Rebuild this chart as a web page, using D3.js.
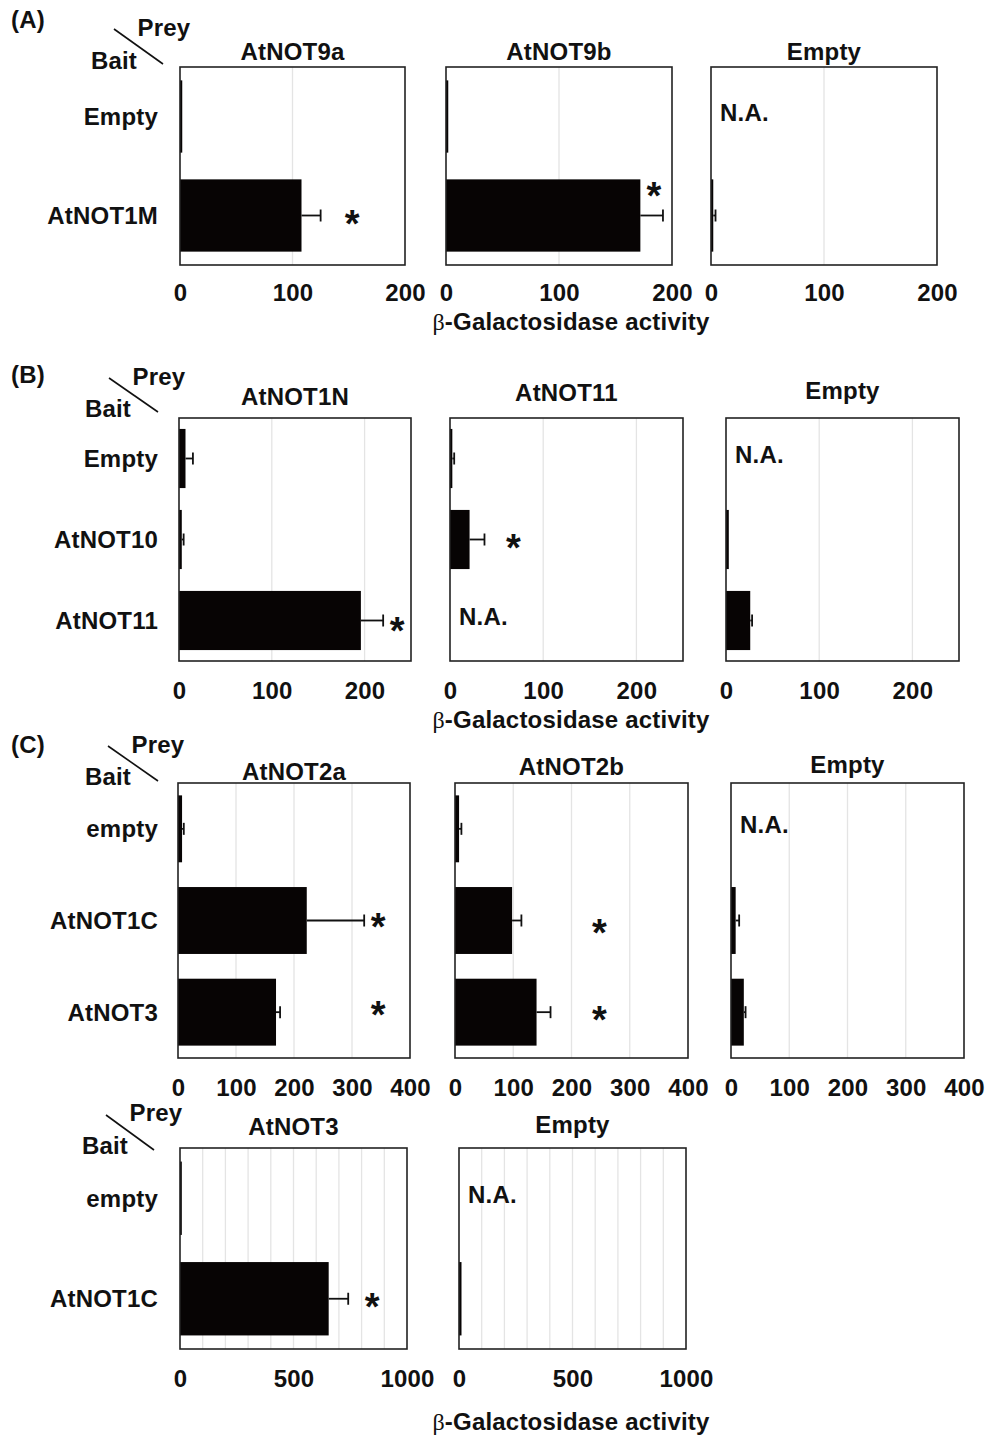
<!DOCTYPE html>
<html><head><meta charset="utf-8">
<script src="https://cdn.jsdelivr.net/npm/d3@7"></script>
<style>body{margin:0;background:#fff}</style>
</head><body>
<svg id="fig" width="987" height="1436"></svg>
<script>
// ---------- data: β-galactosidase activity (mean, SD), null = N.A. ----------
// (A) baits vs. preys AtNOT9a / AtNOT9b / Empty
const baitsA = ["Empty", "AtNOT1M"];
const preysA = ["AtNOT9a", "AtNOT9b", "Empty"];
const meanA  = [[2, 108], [2, 172], [null, 2]];
const errA   = [[0, 17], [0, 20], [null, 2]];
const starA  = [[null, 153], [null, 184], [null, null]];
const ticksA = [0, 100, 200];

// (B) baits vs. preys AtNOT1N / AtNOT11 / Empty
const baitsB = ["Empty", "AtNOT10", "AtNOT11"];
const preysB = ["AtNOT1N", "AtNOT11", "Empty"];
const meanB  = [[7, 3, 196], [2.5, 21, null], [null, 3, 26]];
const errB   = [[8, 2, 24], [2, 16, null], [null, 0, 2]];
const starB  = [[null, null, 235], [null, 68, null], [null, null, null]];
const ticksB = [0, 100, 200];

// (C) baits vs. preys AtNOT2a / AtNOT2b / Empty
const baitsC = ["empty", "AtNOT1C", "AtNOT3"];
const preysC = ["AtNOT2a", "AtNOT2b", "Empty"];
const meanC  = [[7, 222, 169], [7, 98, 140], [null, 8, 22]];
const errC   = [[3, 99, 7], [4, 16, 24], [null, 6, 3]];
const starC  = [[null, 345, 345], [null, 248, 248], [null, null, null]];
const ticksC = [0, 100, 200, 300, 400];

// (C, lower) baits vs. preys AtNOT3 / Empty
const baitsD = ["empty", "AtNOT1C"];
const preysD = ["AtNOT3", "Empty"];
const meanD  = [[8, 655], [null, 11]];
const errD   = [[0, 86], [null, 0]];
const starD  = [[null, 846], [null, null]];
const ticksD = [0, 500, 1000];

const axisTitle = "-Galactosidase activity";

// ---------- layout ----------
const FONT = "'Liberation Sans', Arial, Helvetica, sans-serif";
const FS = 24, LS = 0.2;
const STAR_FS = 38;

const panels = [
  { tag: "(A)", tagY: 20, prey: [164, 28], bait: [114, 61], slash: [114, 29, 163, 64],
    baits: baitsA, preys: preysA, mean: meanA, err: errA, star: starA,
    max: 200, ticks: ticksA, gridStep: 100,
    boxes: [[180, 405], [446, 672], [711, 937]], top: 67, bottom: 265,
    titleY: [52, 52, 52], tickY: 293, axisY: 322, starDy: [[0, 3], [0, -25], [0, 0]] },
  { tag: "(B)", tagY: 375, prey: [159, 377], bait: [108, 409], slash: [109, 378, 158, 412],
    baits: baitsB, preys: preysB, mean: meanB, err: errB, star: starB,
    max: 250, ticks: ticksB, gridStep: 100,
    boxes: [[179, 411], [450, 683], [726, 959]], top: 418, bottom: 661,
    titleY: [397, 393, 391], tickY: 691, axisY: 720, starDy: [[0, 0, 5], [0, 3, 0], [0, 0, 0]] },
  { tag: "(C)", tagY: 745, prey: [158, 745], bait: [108, 777], slash: [108, 746, 158, 781],
    baits: baitsC, preys: preysC, mean: meanC, err: errC, star: starC,
    max: 400, ticks: ticksC, gridStep: 100,
    boxes: [[178, 410], [455, 688], [731, 964]], top: 783, bottom: 1058,
    titleY: [772, 767, 765], tickY: 1088, axisY: null, starDy: [[0, 1, -2], [0, 7, 3], [0, 0, 0]] },
  { tag: null, prey: [156, 1113], bait: [105, 1146], slash: [106, 1115, 154, 1150],
    baits: baitsD, preys: preysD, mean: meanD, err: errD, star: starD,
    max: 1000, ticks: ticksD, gridStep: 100,
    boxes: [[180, 407], [459, 686]], top: 1148, bottom: 1349,
    titleY: [1127, 1125], tickY: 1379, axisY: 1422, starDy: [[0, 3], [0, 0]] }
];

const svg = d3.select("#fig");

function label(g, txt, x, y, anchor, size) {
  return g.append("text").attr("x", x).attr("y", y).attr("dy", "0.35em")
    .attr("text-anchor", anchor || "middle")
    .attr("font-family", FONT).attr("font-weight", "bold")
    .attr("font-size", size || FS).attr("letter-spacing", LS)
    .attr("fill", "#111").text(txt);
}

function drawChart(g, p, ci) {
  const [x0, x1] = p.boxes[ci];
  const x = d3.scaleLinear().domain([0, p.max]).range([x0, x1]);
  const y = d3.scaleBand().domain(p.baits).range([p.top, p.bottom])
    .paddingInner(0.27).paddingOuter(0.135);
  const bw = y.bandwidth();

  // vertical gridlines
  const grid = d3.range(p.gridStep, p.max, p.gridStep);
  g.append("g").selectAll("line").data(grid).join("line")
    .attr("x1", d => x(d)).attr("x2", d => x(d))
    .attr("y1", p.top).attr("y2", p.bottom)
    .attr("stroke", "#e4e4e4").attr("stroke-width", 1.3);

  const rows = p.baits.map((b, i) => ({
    bait: b, i, m: p.mean[ci][i], e: p.err[ci][i], s: p.star[ci][i]
  }));

  // bars
  g.append("g").selectAll("rect").data(rows.filter(d => d.m != null)).join("rect")
    .attr("x", x(0)).attr("y", d => y(d.bait))
    .attr("width", d => x(d.m) - x(0)).attr("height", bw)
    .attr("fill", "#070404");

  // error bars
  const eg = g.append("g").attr("stroke", "#111").attr("stroke-width", 1.8);
  rows.filter(d => d.m != null && d.e > 0).forEach(d => {
    const cy = y(d.bait) + bw / 2;
    eg.append("line").attr("x1", x(d.m)).attr("x2", x(d.m + d.e)).attr("y1", cy).attr("y2", cy);
    eg.append("line").attr("x1", x(d.m + d.e)).attr("x2", x(d.m + d.e)).attr("y1", cy - 6).attr("y2", cy + 6);
  });

  // N.A. labels
  rows.filter(d => d.m == null).forEach(d => {
    label(g, "N.A.", x0 + 9, y(d.bait) + bw / 2 - 4, "start");
  });

  // significance marks
  rows.filter(d => d.s != null).forEach(d => {
    const cy = y(d.bait) + bw / 2 + p.starDy[ci][d.i];
    g.append("text").attr("x", x(d.s)).attr("y", cy + STAR_FS * 0.48)
      .attr("text-anchor", "middle").attr("font-family", FONT)
      .attr("font-weight", "bold").attr("font-size", STAR_FS).attr("fill", "#111").text("*");
  });

  // frame
  g.append("rect").attr("x", x0).attr("y", p.top)
    .attr("width", x1 - x0).attr("height", p.bottom - p.top)
    .attr("fill", "none").attr("stroke", "#222").attr("stroke-width", 1.6);

  // tick labels
  const ax = g.append("g").attr("transform", `translate(0,${p.tickY})`)
    .call(d3.axisBottom(x).tickValues(p.ticks).tickSize(0).tickPadding(0).tickFormat(d3.format("d")));
  ax.select(".domain").remove();
  ax.selectAll("text").attr("y", 0).attr("dy", "0.35em")
    .attr("font-family", FONT).attr("font-weight", "bold")
    .attr("font-size", FS).attr("letter-spacing", LS).attr("fill", "#111");

  // prey title
  label(g, p.preys[ci], (x0 + x1) / 2, p.titleY[ci]);

  return y;
}

panels.forEach(p => {
  const g = svg.append("g");
  if (p.tag) label(g, p.tag, 11, p.tagY, "start");
  label(g, "Prey", p.prey[0], p.prey[1]);
  label(g, "Bait", p.bait[0], p.bait[1]);
  g.append("line").attr("x1", p.slash[0]).attr("y1", p.slash[1])
    .attr("x2", p.slash[2]).attr("y2", p.slash[3])
    .attr("stroke", "#111").attr("stroke-width", 1.6);

  let y;
  p.preys.forEach((_, ci) => { y = drawChart(g, p, ci); });

  // bait row labels
  p.baits.forEach(b => {
    label(g, b, 158, y(b) + y.bandwidth() / 2, "end");
  });

  // shared x-axis title
  if (p.axisY) {
    const t = g.append("text").attr("x", 571).attr("y", p.axisY).attr("dy", "0.35em")
      .attr("text-anchor", "middle").attr("font-family", FONT).attr("font-weight", "bold")
      .attr("font-size", FS).attr("letter-spacing", LS).attr("fill", "#111");
    t.append("tspan").attr("font-family", "'Liberation Serif', 'Times New Roman', serif")
      .attr("font-weight", "normal").text("β");
    t.append("tspan").text(axisTitle);
  }
});
</script>
</body></html>
